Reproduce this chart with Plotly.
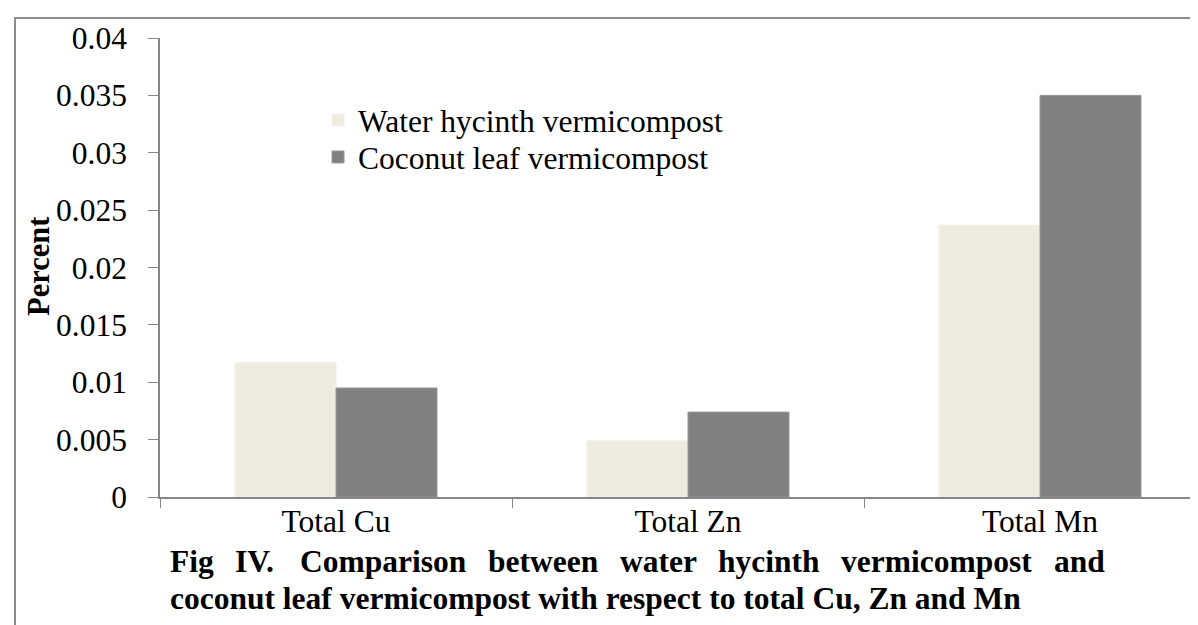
import plotly.graph_objects as go

categories = ["Total Cu", "Total Zn", "Total Mn"]
water_hycinth = [0.0117, 0.0049, 0.0237]
coconut_leaf = [0.0095, 0.0074, 0.0350]
series_names = ["Water hycinth vermicompost", "Coconut leaf vermicompost"]
y_ticks = [0, 0.005, 0.01, 0.015, 0.02, 0.025, 0.03, 0.035, 0.04]
y_tick_text = ["0", "0.005", "0.01", "0.015", "0.02", "0.025", "0.03", "0.035", "0.04"]
caption_line1 = ["Fig", "IV.", "Comparison", "between", "water", "hycinth", "vermicompost", "and"]
caption_line2 = "coconut leaf vermicompost with respect to total Cu, Zn and Mn"

W, H = 1198, 625
L, R, T, B = 152, 1198, 30, 489  # plot area pixels

def px(x):
    return (x - L) / (R - L)

def py(y):
    return (B - y) / (B - T)

SERIF = "Liberation Serif, Times New Roman, serif"
AX = "#868686"
FS = 31.5

fig = go.Figure()
fig.add_trace(go.Bar(x=categories, y=water_hycinth, name=series_names[0], legend="legend",
                     marker=dict(color="#EEECE1", line=dict(color="#F2F0E8", width=1))))
fig.add_trace(go.Bar(x=categories, y=coconut_leaf, name=series_names[1], legend="legend2",
                     marker=dict(color="#808080", line=dict(color="#999999", width=1))))

leg_common = dict(xanchor="left", yanchor="middle", font=dict(family=SERIF, size=FS),
                  bgcolor="rgba(0,0,0,0)", borderwidth=0, itemwidth=30)
fig.update_layout(
    width=W, height=H,
    margin=dict(l=L, r=W - R, t=T, b=H - B),
    paper_bgcolor="white", plot_bgcolor="white",
    barmode="group", bargap=0.426, bargroupgap=0,
    font=dict(family=SERIF, size=FS, color="black"),
    showlegend=True,
    legend=dict(x=px(310), y=py(112), **leg_common),
    legend2=dict(x=px(310), y=py(149), **leg_common),
)

fig.update_xaxes(
    range=[-0.5, 2.5 - 10 / 352],
    showline=True, linecolor=AX, linewidth=1.5,
    ticks="outside", ticklen=9, tickcolor=AX, tickwidth=1,
    tickson="boundaries", showgrid=False, zeroline=False,
    ticklabelstandoff=-5,
    tickfont=dict(family=SERIF, size=FS),
)
fig.update_yaxes(
    range=[0, 0.04], tickvals=y_ticks, ticktext=y_tick_text,
    showline=True, linecolor=AX, linewidth=1.5,
    ticks="outside", ticklen=10, tickcolor=AX, tickwidth=1,
    showgrid=False, zeroline=False, ticklabelstandoff=15,
    tickfont=dict(family=SERIF, size=FS),
)

# outer chart frame (cropped at right and bottom)
fig.add_shape(type="rect", xref="paper", yref="paper",
              x0=px(7), x1=px(1230), y0=py(660), y1=py(10),
              line=dict(color="#8C8C8C", width=2), layer="below")

# y-axis title
fig.add_annotation(text="<b>Percent</b>", xref="paper", yref="paper",
                   x=px(31), y=py(258), textangle=-90, showarrow=False,
                   xanchor="center", yanchor="middle",
                   font=dict(family=SERIF, size=30.5))

# caption line 1 (justified words)
word_x = [160, 225, 290, 478, 610, 708, 831, 1044]
for wtxt, wx in zip(caption_line1, word_x):
    fig.add_annotation(text="<b>%s</b>" % wtxt, xref="paper", yref="paper",
                       x=px(wx), y=py(553), xanchor="left", yanchor="middle",
                       showarrow=False, font=dict(family=SERIF, size=FS))
fig.add_annotation(text="<b>%s</b>" % caption_line2, xref="paper", yref="paper",
                   x=px(160), y=py(590), xanchor="left", yanchor="middle",
                   showarrow=False, font=dict(family=SERIF, size=FS))

fig.write_html("out.html")
